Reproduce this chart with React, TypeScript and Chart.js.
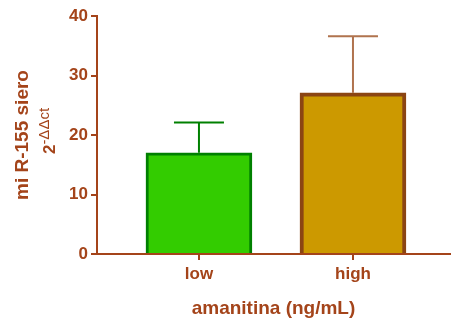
import React, { useEffect, useRef } from "react";
import { Chart, registerables } from "chart.js";

Chart.register(...registerables);

const categories = ["low", "high"];
const means = [17.0, 27.1];
const errors = [5.1, 9.5];
const fillColors = ["#33CC00", "#CC9900"];
const borderColors = ["#008000", "#8B4513"];
const errorColors = ["#008000", "#B0734E"];
const yTicks = [0, 10, 20, 30, 40];

const TEXT = "#A4441A";
const FONT = "'Liberation Sans', Arial, sans-serif";

export default function App() {
  const ref = useRef<HTMLCanvasElement | null>(null);

  useEffect(() => {
    if (!ref.current) return;

    const errorPlugin = {
      id: "errorBars",
      beforeDatasetsDraw(chart: any) {
        const { ctx, scales } = chart;
        const xs = scales.x;
        const ys = scales.y;
        ctx.save();
        means.forEach((m, i) => {
          const x = xs.getPixelForValue(i);
          const y0 = ys.getPixelForValue(m);
          const y1 = ys.getPixelForValue(m + errors[i]);
          ctx.strokeStyle = errorColors[i];
          ctx.lineWidth = 2;
          ctx.beginPath();
          ctx.moveTo(x, y0);
          ctx.lineTo(x, y1);
          ctx.moveTo(x - 25, y1);
          ctx.lineTo(x + 25, y1);
          ctx.stroke();
        });
        ctx.restore();
      },
    };

    const titlePlugin = {
      id: "yTitle",
      afterDraw(chart: any) {
        const { ctx, chartArea } = chart;
        const cy = (chartArea.top + chartArea.bottom) / 2;
        ctx.save();
        ctx.fillStyle = TEXT;
        ctx.save();
        ctx.translate(28, cy);
        ctx.rotate(-Math.PI / 2);
        ctx.font = `bold 19px ${FONT}`;
        ctx.textAlign = "center";
        ctx.textBaseline = "alphabetic";
        ctx.fillText("mi R-155 siero", 0, 0);
        ctx.restore();
        ctx.save();
        ctx.font = `bold 17px ${FONT}`;
        const w2 = ctx.measureText("2").width;
        ctx.font = `15px ${FONT}`;
        const ws = ctx.measureText("-ΔΔct").width;
        const total = w2 + ws;
        ctx.translate(55, cy - 4 + total / 2);
        ctx.rotate(-Math.PI / 2);
        ctx.textAlign = "left";
        ctx.textBaseline = "alphabetic";
        ctx.font = `bold 17px ${FONT}`;
        ctx.fillText("2", 0, 0);
        ctx.font = `15px ${FONT}`;
        ctx.fillText("-ΔΔct", w2, -6);
        ctx.restore();
        ctx.restore();
      },
    };

    const chart = new Chart(ref.current, {
      type: "bar",
      data: {
        datasets: [
          {
            data: means.map((v, i) => ({ x: i, y: v })),
            backgroundColor: fillColors,
            borderColor: borderColors,
            borderWidth: [3, 4] as any,
            barThickness: 106,
          },
        ],
      },
      options: {
        animation: false,
        responsive: true,
        maintainAspectRatio: false,
        layout: { padding: { top: 16, right: 2, left: 0, bottom: 0 } },
        plugins: {
          legend: { display: false },
          tooltip: { enabled: false },
        },
        scales: {
          x: {
            type: "linear",
            min: -0.662,
            max: 1.63,
            offset: false,
            afterBuildTicks(scale: any) {
              scale.ticks = categories.map((_, i) => ({ value: i }));
            },
            afterFit(scale: any) {
              scale.height = 67;
            },
            ticks: {
              callback: (v: any) => categories[Number(v)] ?? "",
              color: TEXT,
              font: { family: FONT, size: 17, weight: "bold" },
              padding: 4,
              maxRotation: 0,
              autoSkip: false,
            },
            grid: {
              display: true,
              offset: false,
              drawOnChartArea: false,
              drawTicks: true,
              tickLength: 6,
              color: TEXT,
              lineWidth: 2,
            },
            border: { color: TEXT, width: 2 },
            title: {
              display: true,
              text: "amanitina (ng/mL)",
              color: TEXT,
              font: { family: FONT, size: 19, weight: "bold" },
              padding: { top: 0, bottom: 1 },
            },
          },
          y: {
            min: 0,
            max: 40,
            afterBuildTicks(scale: any) {
              scale.ticks = yTicks.map((v) => ({ value: v }));
            },
            afterFit(scale: any) {
              scale.width = 97;
            },
            ticks: {
              color: TEXT,
              font: { family: FONT, size: 17, weight: "bold" },
              padding: 3,
            },
            grid: {
              display: true,
              drawOnChartArea: false,
              drawTicks: true,
              tickLength: 6,
              color: TEXT,
              lineWidth: 2,
            },
            border: { color: TEXT, width: 2 },
          },
        },
      },
      plugins: [errorPlugin, titlePlugin],
    } as any);

    return () => chart.destroy();
  }, []);

  return (
    <div style={{ position: "fixed", left: 0, top: 0, width: 452, height: 321, background: "#fff" }}>
      <canvas ref={ref} />
    </div>
  );
}
